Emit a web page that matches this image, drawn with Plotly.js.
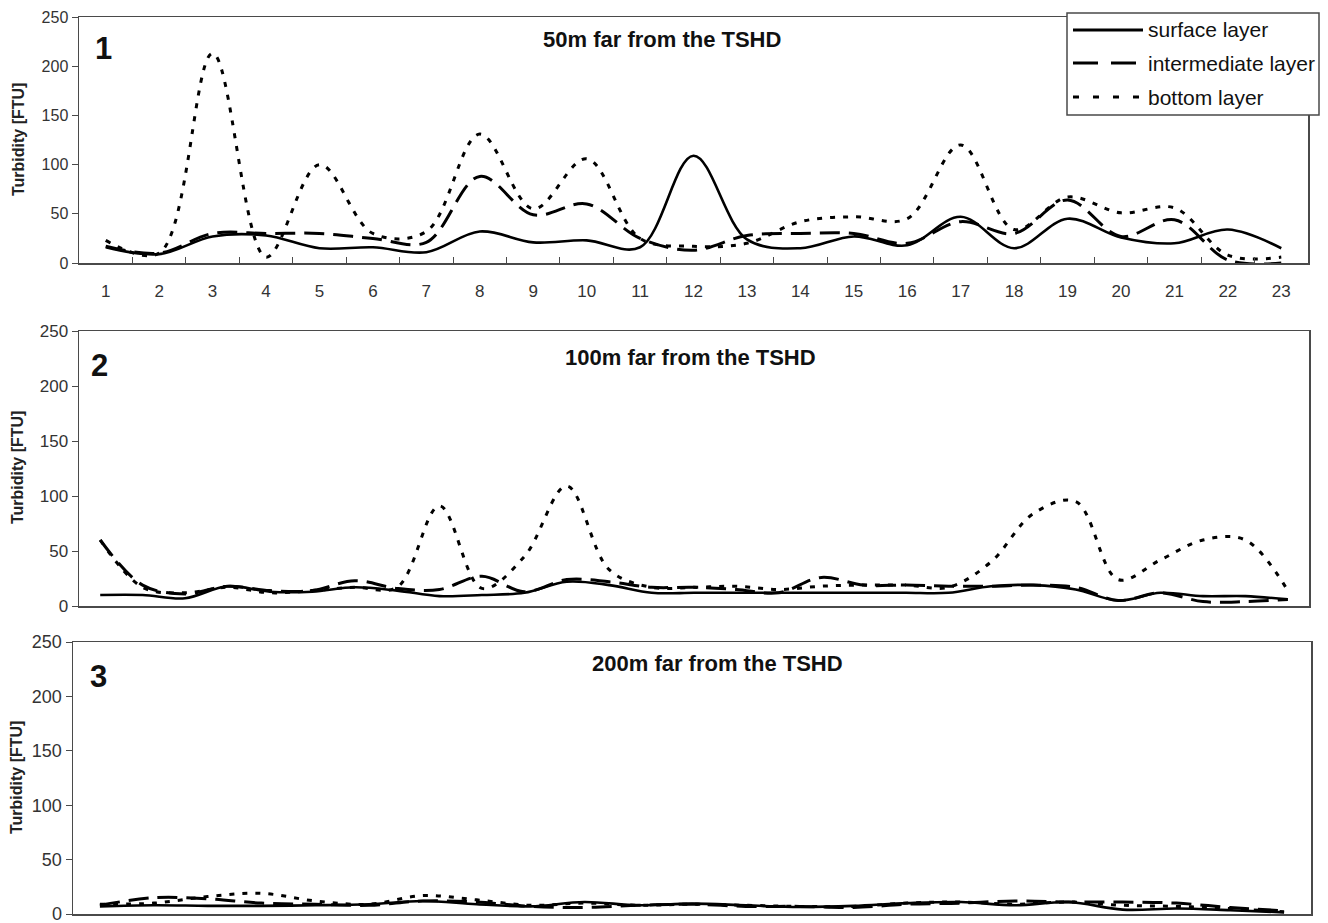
<!DOCTYPE html>
<html>
<head>
<meta charset="utf-8">
<script src="https://cdn.plot.ly/plotly-3.0.1.min.js"></script>
<style>
  html, body { margin: 0; padding: 0; background: #ffffff; }
  #chart { width: 1328px; height: 923px; }
</style>
</head>
<body>
<div id="chart"></div>
<script>
// ---- Data: turbidity [FTU] per sampling step ----
// Panel 1: 50 m from the TSHD (23 labelled sampling steps)
const steps50 = ['1','2','3','4','5','6','7','8','9','10','11','12','13','14','15','16','17','18','19','20','21','22','23'];
const surface50      = [16, 9, 27, 28, 15, 16, 11, 32, 21, 23, 16, 109, 24, 15, 27, 18, 47, 15, 45, 26, 20, 34, 15];
const intermediate50 = [17, 10, 30, 30, 30, 25, 21, 88, 49, 60, 25, 13, 28, 30, 30, 20, 42, 30, 64, 27, 44, 3, 0];
const bottom50       = [23, 10, 213, 6, 100, 30, 32, 131, 55, 106, 25, 17, 20, 42, 47, 45, 120, 34, 67, 51, 56, 8, 6];

// Panel 2: 100 m from the TSHD (29 samples)
const steps100 = [1,2,3,4,5,6,7,8,9,10,11,12,13,14,15,16,17,18,19,20,21,22,23,24,25,26,27,28,29];
const surface100      = [10, 10, 7, 18, 13, 13, 17, 14, 9, 10, 12, 22, 19, 12, 12, 12, 12, 12, 12, 12, 12, 18, 19, 15, 5, 12, 9, 9, 6];
const intermediate100 = [60, 19, 11, 18, 14, 14, 23, 16, 15, 27, 13, 24, 22, 17, 17, 15, 12, 26, 19, 19, 18, 18, 19, 17, 5, 12, 4, 4, 6];
const bottom100       = [60, 17, 12, 17, 12, 14, 17, 17, 91, 16, 45, 109, 33, 17, 17, 18, 15, 18, 19, 19, 17, 40, 84, 95, 24, 42, 60, 60, 14];

// Panel 3: 200 m from the TSHD (23 samples)
const steps200 = [1,2,3,4,5,6,7,8,9,10,11,12,13,14,15,16,17,18,19,20,21,22,23];
const surface200      = [7, 8, 7.5, 7.5, 8, 9, 12, 9, 7, 11, 8, 9.5, 8, 6.5, 7.5, 10, 11, 8, 11, 4, 5, 3.5, 1.5];
const intermediate200 = [8, 15, 14, 10, 9, 8, 12, 11, 7, 6, 8, 9, 7, 7, 6, 9, 10, 12, 11, 11, 10, 6, 3];
const bottom200       = [9, 10, 16, 19, 12, 9, 17, 13, 8, 10, 8, 9, 8, 7, 7, 10, 11, 9, 11, 8, 7, 5, 2];

const panelTitles = ['50m far from the TSHD', '100m far from the TSHD', '200m far from the TSHD'];
const panelNumbers = ['1', '2', '3'];
const layerNames = ['surface layer', 'intermediate layer', 'bottom layer'];
const yTitle = 'Turbidity [FTU]';

// ---- Styling ----
const W = 1328, H = 923;
const px = x => x / W;          // pixel -> paper x
const py = y => 1 - y / H;      // pixel -> paper y
const SANS = 'Liberation Sans, Arial, sans-serif';
const FRAME = '#4a4a4a';
const TICKTXT = '#333333';

const styles = [
  { color: '#000', width: 2.6, dash: 'solid' },
  { color: '#000', width: 3, dash: '20px,9px' },
  { color: '#000', width: 3, dash: '5px,8px' }
];

function series(x, ys, xa, ya) {
  return ys.map((y, i) => ({
    type: 'scatter', mode: 'lines', x: x, y: y, name: layerNames[i],
    xaxis: xa, yaxis: ya, showlegend: false, hoverinfo: 'x+y+name',
    line: { color: styles[i].color, width: styles[i].width, dash: styles[i].dash, shape: 'spline', smoothing: 1 }
  }));
}

const data = [
  ...series(steps50,  [surface50,  intermediate50,  bottom50],  'x',  'y'),
  ...series(steps100, [surface100, intermediate100, bottom100], 'x2', 'y2'),
  ...series(steps200, [surface200, intermediate200, bottom200], 'x3', 'y3')
];

function yAxis(domain, fontSize, anchor) {
  return {
    domain: domain, anchor: anchor, range: [0, 250], dtick: 50, tick0: 0,
    ticks: 'outside', ticklen: 6, tickwidth: 1, tickcolor: FRAME,
    showline: true, mirror: true, linecolor: FRAME, linewidth: 1.5,
    showgrid: false, zeroline: false, fixedrange: true,
    ticklabeloverflow: 'allow',
    tickfont: { family: SANS, size: fontSize, color: TICKTXT }
  };
}

const layout = {
  width: W, height: H,
  margin: { l: 0, r: 0, t: 0, b: 0, pad: 0 },
  paper_bgcolor: '#ffffff', plot_bgcolor: '#ffffff',
  showlegend: false,
  xaxis: {
    domain: [px(79), px(1308)], anchor: 'y', type: 'category',
    range: [-0.5, 22.5], tickson: 'boundaries',
    ticks: 'inside', ticklen: 6, tickwidth: 1, tickcolor: FRAME,
    showline: true, mirror: true, linecolor: FRAME, linewidth: 1.5,
    showgrid: false, zeroline: false, fixedrange: true,
    ticklabelstandoff: 12,
    tickfont: { family: SANS, size: 17, color: TICKTXT }
  },
  yaxis: yAxis([py(263), py(17)], 16, 'x'),
  xaxis2: {
    domain: [px(79), px(1309)], anchor: 'y2', range: [0.5, 29.5],
    showticklabels: false, ticks: '', showline: true, mirror: true,
    linecolor: FRAME, linewidth: 1.5, showgrid: false, zeroline: false, fixedrange: true
  },
  yaxis2: yAxis([py(606), py(331)], 17, 'x2'),
  xaxis3: {
    domain: [px(73), px(1311)], anchor: 'y3', range: [0.5, 23.5],
    showticklabels: false, ticks: '', showline: true, mirror: true,
    linecolor: FRAME, linewidth: 1.5, showgrid: false, zeroline: false, fixedrange: true
  },
  yaxis3: yAxis([py(914), py(642)], 18, 'x3'),
  shapes: [],
  annotations: []
};

// Panel titles, panel numbers and y-axis titles
const titlePos = [[662, 40], [690, 357], [717, 663]];
const numberPos = [[103, 48], [99, 365], [98, 676]];
const yTitlePos = [[18, 140], [17, 468], [16, 778]];
for (let i = 0; i < 3; i++) {
  layout.annotations.push({
    xref: 'paper', yref: 'paper', x: px(titlePos[i][0]), y: py(titlePos[i][1]),
    xanchor: 'center', yanchor: 'middle', showarrow: false,
    text: '<b>' + panelTitles[i] + '</b>',
    font: { family: SANS, size: 22, color: '#111' }
  });
  layout.annotations.push({
    xref: 'paper', yref: 'paper', x: px(numberPos[i][0]), y: py(numberPos[i][1]),
    xanchor: 'center', yanchor: 'middle', showarrow: false,
    text: '<b>' + panelNumbers[i] + '</b>',
    font: { family: SANS, size: 31, color: '#111' }
  });
  layout.annotations.push({
    xref: 'paper', yref: 'paper', x: px(yTitlePos[i][0]), y: py(yTitlePos[i][1]),
    xanchor: 'center', yanchor: 'middle', showarrow: false, textangle: -90,
    text: '<b>' + yTitle + '</b>',
    font: { family: SANS, size: 16, color: '#222' }
  });
}

// Legend box in the top-right corner of panel 1
layout.shapes.push({
  type: 'rect', xref: 'paper', yref: 'paper', layer: 'above',
  x0: px(1067), x1: px(1319), y0: py(115), y1: py(13),
  line: { color: FRAME, width: 1.5 }, fillcolor: '#ffffff'
});
const legendRows = [30, 63, 97];
const legendDash = ['solid', '25px,13px', '6px,14px'];
for (let i = 0; i < 3; i++) {
  layout.shapes.push({
    type: 'line', xref: 'paper', yref: 'paper', layer: 'above',
    x0: px(1073), x1: px(1143), y0: py(legendRows[i]), y1: py(legendRows[i]),
    line: { color: '#000', width: 3, dash: legendDash[i] }
  });
  layout.annotations.push({
    xref: 'paper', yref: 'paper', x: px(1146), y: py(legendRows[i]),
    xanchor: 'left', yanchor: 'middle', showarrow: false,
    text: layerNames[i],
    font: { family: SANS, size: 21, color: '#111' }
  });
}

Plotly.newPlot('chart', data, layout, { displayModeBar: false, staticPlot: true });
</script>
</body>
</html>
